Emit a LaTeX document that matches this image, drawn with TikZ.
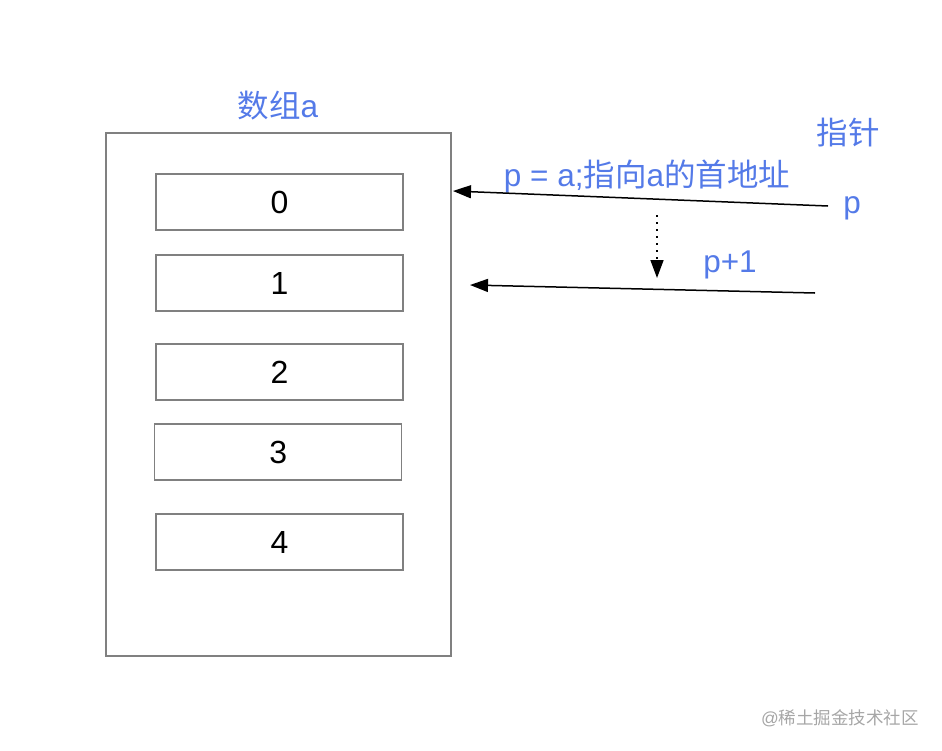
\documentclass[tikz,border=0pt]{standalone}
\usepackage{fontspec}
\setmainfont{Liberation Sans}
\newfontfamily\cjk{Noto Sans CJK SC}
\usetikzlibrary{arrows.meta}
\definecolor{lblue}{RGB}{84,122,232}
\definecolor{boxgray}{RGB}{128,128,128}
\tikzset{
  cell/.style={draw=boxgray, line width=1.3pt, minimum width=247pt, minimum height=56pt, inner sep=0pt, font=\fontsize{32}{36}\selectfont, text=black},
  outerbox/.style={draw=boxgray, line width=1.3pt},
  bluelbl/.style={text=lblue, inner sep=0pt, font=\fontsize{31.5}{36}\selectfont},
  ptr/.style={line width=1.5pt, -{Triangle[length=18pt,width=13pt]}},
}
\begin{document}
\begin{tikzpicture}[x=1pt,y=-1pt]
\useasboundingbox (0,0) rectangle (942,750);
\node[outerbox, minimum width=345pt, minimum height=523pt, inner sep=0pt] (arr) at (278.5,394.5) {};
\node[cell] (c0) at (279.5,202) {0};
\node[cell] (c1) at (279.5,283) {1};
\node[cell] (c2) at (279.5,372) {2};
\node[cell] (c3) at (278.3,452) {3};
\node[cell] (c4) at (279.5,542) {4};
\node[bluelbl] (title) at (278,106) {{\cjk 数组}a};
\node[bluelbl] (ptrlbl) at (848,133) {\cjk 指针};
\node[bluelbl] (plbl) at (852,208) {p};
\node[bluelbl] (asg) at (647,176) {p = a;{\cjk 指向}a{\cjk 的首地址}};
\node[bluelbl] (p1lbl) at (730,265) {p+1};
\coordinate (s1) at (828,206);
\coordinate (e1) at (453,191);
\coordinate (s2) at (815,293);
\coordinate (e2) at (470,285);
\coordinate (ds) at (657,215);
\coordinate (de) at (657,278);
\draw[ptr] (s1) -- (e1);
\draw[ptr] (s2) -- (e2);
\draw[ptr, dash pattern=on 2pt off 5pt, line width=1.5pt] (ds) -- (de);
\node[text=gray!70, inner sep=0pt, font=\fontsize{17.5}{20}\selectfont] (wm) at (840,718) {@{\cjk 稀土掘金技术社区}};
\end{tikzpicture}
\end{document}
